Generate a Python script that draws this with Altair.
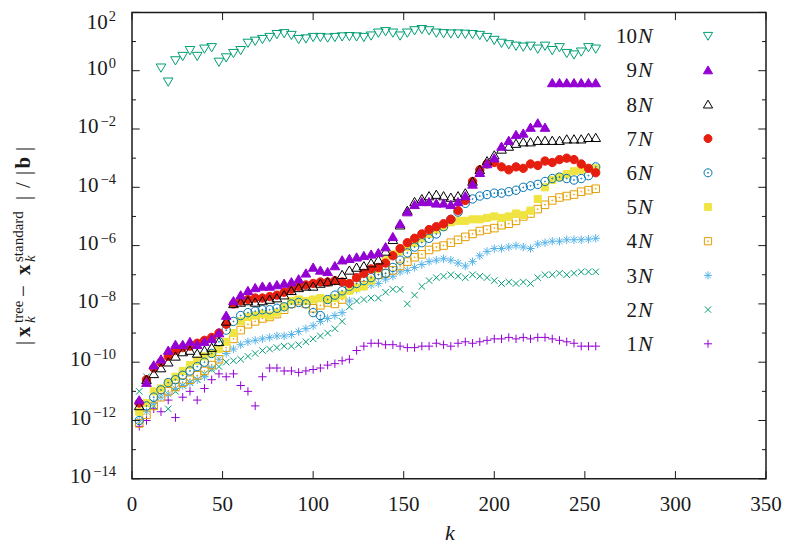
import altair as alt
import pandas as pd

# ---------------- data (log10 of the error) ----------------
K = list(range(4, 257, 4))          # iteration numbers k for series 1N..9N
K10 = list(range(16, 257, 4))       # 10N starts later

series_names = ["1N", "2N", "3N", "4N", "5N", "6N", "7N", "8N", "9N", "10N"]

log_1N = [-12.2, -12.0, -11.6, -11.7, -11.3, -11.9, -11.2, -11.0, -11.3, -10.9, -10.6, -10.4, -10.5, -10.4, -10.8,
          -11.0, -11.5, -10.5, -10.2, -10.2, -10.3, -10.3, -10.35, -10.3, -10.25, -10.2, -10.1, -10.05, -9.95, -9.9,
          -9.6, -9.45, -9.35, -9.35, -9.4, -9.4, -9.45, -9.5, -9.5, -9.45, -9.45, -9.35, -9.4, -9.45, -9.35,
          -9.3, -9.35, -9.3, -9.25, -9.2, -9.2, -9.15, -9.2, -9.15, -9.2, -9.15, -9.15, -9.2, -9.25, -9.3,
          -9.35, -9.45, -9.45, -9.45]
log_2N = [-11.0, -10.5, -11.5, -10.9, -11.6, -11.0, -10.8, -10.7, -10.6, -10.4, -10.25, -10.15, -10.0, -9.95, -9.9,
          -9.8, -9.7, -9.6, -9.55, -9.5, -9.45, -9.45, -9.4, -9.3, -9.2, -9.1, -9.0, -8.85, -8.6, -8.1,
          -7.9, -7.85, -7.8, -7.8, -7.6, -7.5, -7.5, -8.0, -7.7, -7.4, -7.2, -7.1, -7.05, -7.0, -7.05,
          -7.1, -7.0, -7.05, -7.1, -7.2, -7.3, -7.25, -7.3, -7.25, -7.3, -7.1, -7.0, -7.0, -6.95, -7.0,
          -6.95, -6.9, -6.9, -6.9]
log_3N = [-12.0, -11.7, -11.4, -11.2, -11.1, -10.9, -10.8, -10.7, -10.6, -10.5, -10.2, -9.9, -9.7, -9.55, -9.4,
          -9.3, -9.25, -9.2, -9.15, -9.1, -9.1, -9.05, -8.95, -8.85, -8.75, -8.6, -8.5, -8.4, -8.3, -7.9,
          -7.5, -7.4, -7.35, -7.3, -7.15, -7.05, -6.9, -6.85, -6.75, -6.65, -6.55, -6.5, -6.45, -6.5, -6.6,
          -6.7, -6.55, -6.35, -6.2, -6.1, -6.1, -6.05, -6.0, -6.05, -6.1, -5.95, -5.9, -5.85, -5.85, -5.8,
          -5.8, -5.8, -5.78, -5.75]
log_4N = [-12.1, -11.8, -11.5, -11.2, -11.0, -10.85, -10.7, -10.6, -10.45, -10.3, -10.1, -9.9, -9.5, -9.2, -8.9,
          -8.7, -8.6, -8.5, -8.45, -8.35, -8.2, -8.0, -7.9, -8.0, -8.15, -8.05, -7.95, -8.0, -7.85, -7.5,
          -7.2, -7.1, -7.05, -7.0, -6.95, -6.85, -6.7, -6.55, -6.4, -6.3, -6.15, -6.05, -6.0, -5.9, -5.8,
          -5.7, -5.6, -5.5, -5.45, -5.4, -5.3, -5.25, -5.15, -5.0, -4.9, -4.75, -4.6, -4.45, -4.35, -4.3,
          -4.25, -4.15, -4.1, -4.05]
log_5N = [-11.7, -11.4, -11.0, -10.9, -10.7, -10.5, -10.3, -10.1, -9.95, -9.8, -9.7, -9.55, -9.3, -9.0, -8.6,
          -8.45, -8.4, -8.35, -8.4, -8.3, -8.1, -7.9, -7.85, -7.9, -7.85, -7.8, -7.85, -7.8, -7.7, -7.55,
          -7.45, -7.4, -7.2, -6.8, -6.5, -6.3, -6.2, -6.05, -5.9, -5.75, -5.6, -5.45, -5.35, -5.2, -5.15,
          -5.15, -5.1, -5.1, -5.05, -5.0, -5.05, -5.0, -4.9, -4.95, -4.8, -4.4, -4.0, -3.75, -3.65, -3.55,
          -3.45, -3.4, -3.35, -3.35]
log_6N = [-12.0, -11.5, -11.2, -10.95, -10.7, -10.6, -10.45, -10.3, -10.15, -10.0, -9.7, -9.3, -8.9, -8.6, -8.4,
          -8.3, -8.25, -8.2, -8.2, -8.15, -8.1, -8.0, -7.95, -8.0, -8.3, -8.4, -7.85, -7.7, -7.55, -7.4,
          -7.3, -7.2, -7.1, -7.0, -6.95, -6.75, -6.5, -6.25, -6.05, -5.9, -5.75, -5.6, -5.35, -5.1, -4.85,
          -4.55, -4.4, -4.3, -4.25, -4.2, -4.2, -4.15, -4.1, -4.0, -3.95, -3.9, -3.8, -3.7, -3.65, -3.7,
          -3.75, -3.7, -3.6, -3.3]
log_7N = [-11.4, -10.6, -10.2, -10.0, -9.8, -9.6, -9.5, -9.45, -9.35, -9.25, -9.15, -9.0, -8.7, -8.0, -7.9,
          -7.85, -7.8, -7.8, -7.75, -7.7, -7.6, -7.5, -7.4, -7.35, -7.3, -7.25, -7.25, -7.2, -7.25, -7.3,
          -7.1, -6.95, -6.8, -6.75, -6.6, -6.35, -6.1, -5.9, -5.75, -5.6, -5.45, -5.35, -5.25, -5.1, -4.8,
          -4.45, -3.8, -3.4, -3.2, -3.15, -3.3, -3.4, -3.3, -3.35, -3.2, -3.25, -3.1, -3.15, -3.05, -3.0,
          -3.05, -3.2, -3.35, -3.5]
log_8N = [-11.5, -10.6, -10.4, -10.2, -10.0, -9.8, -9.65, -9.6, -9.7, -9.6, -9.5, -9.3, -8.6, -8.0, -7.95,
          -7.9, -7.95, -7.9, -7.85, -7.8, -7.7, -7.55, -7.45, -7.4, -7.4, -7.3, -7.25, -7.2, -7.0, -6.85,
          -6.75, -6.7, -6.6, -6.5, -6.2, -5.8, -5.3, -4.8, -4.5, -4.4, -4.3, -4.25, -4.3, -4.35, -4.3,
          -4.2, -3.8, -3.4, -3.1, -2.9, -2.7, -2.6, -2.5, -2.45, -2.45, -2.4, -2.4, -2.4, -2.4, -2.35,
          -2.35, -2.35, -2.3, -2.3]
log_9N = [-11.3, -10.7, -10.1, -9.9, -9.6, -9.4, -9.4, -9.3, -9.4, -9.3, -9.2, -9.0, -8.4, -7.9, -7.7,
          -7.55, -7.45, -7.4, -7.4, -7.35, -7.3, -7.25, -7.15, -6.95, -6.75, -6.85, -6.9, -6.7, -6.5, -6.45,
          -6.4, -6.35, -6.3, -6.25, -6.05, -5.7, -5.25, -4.85, -4.6, -4.5, -4.5, -4.55, -4.55, -4.6, -4.5,
          -4.3, -3.9, -3.5, -3.2, -3.0, -2.6, -2.4, -2.2, -2.15, -1.95, -1.8, -1.95, -0.42, -0.42, -0.42,
          -0.42, -0.42, -0.42, -0.42]
log_10N = [0.1, -0.38, 0.35, 0.5, 0.7, 0.5, 0.75, 0.8, 0.3, 0.45, 0.6, 0.7, 0.95, 1.02, 1.08,
           1.15, 1.25, 1.28, 1.22, 1.08, 1.1, 1.15, 1.15, 1.13, 1.15, 1.17, 1.18, 1.17, 1.15, 1.2,
           1.3, 1.35, 1.3, 1.2, 1.3, 1.38, 1.42, 1.38, 1.3, 1.28, 1.27, 1.27, 1.26, 1.25, 1.22,
           1.15, 1.05, 0.95, 0.9, 0.85, 0.82, 0.85, 0.75, 0.85, 0.7, 0.8, 0.6, 0.55, 0.65, 0.8,
           0.75]

x_ticks = [0, 50, 100, 150, 200, 250, 300, 350]
y_major_exp = [2, 0, -2, -4, -6, -8, -10, -12, -14]
y_minor_exp = [1, -1, -3, -5, -7, -9, -11, -13]

legend_order = ["10N", "9N", "8N", "7N", "6N", "5N", "4N", "3N", "2N", "1N"]
legend_num = ["10", "9", "8", "7", "6", "5", "4", "3", "2", "1"]

# ---------------- tables ----------------
rows = []
for name, ks, vals in [("1N", K, log_1N), ("2N", K, log_2N), ("3N", K, log_3N), ("4N", K, log_4N),
                       ("5N", K, log_5N), ("6N", K, log_6N), ("7N", K, log_7N), ("8N", K, log_8N),
                       ("9N", K, log_9N), ("10N", K10, log_10N)]:
    for k, e in zip(ks, vals):
        rows.append({"k": k, "err": 10.0 ** e, "s": name})
df = pd.DataFrame(rows)

xt = pd.DataFrame({"t": x_ticks})
ymaj = pd.DataFrame({"e": y_major_exp})
ymin = pd.DataFrame({"e": y_minor_exp})
leg = pd.DataFrame({"s": legend_order, "num": legend_num, "i": list(range(len(legend_order)))})
one = pd.DataFrame({"a": [0]})

# ---------------- styles ----------------
W, H = 634, 466.4
SERIF = "'Liberation Serif', 'Times New Roman', Times, 'DejaVu Serif', serif"
TXT = "#1a1a1a"
AX = "#1a1a1a"

colors = ["#9400d3", "#009e73", "#56b4e9", "#e69f00", "#f0e442",
          "#0072b2", "#e51e10", "#000000", "#9400d3", "#009e73"]
fills = ["transparent", "transparent", "transparent", "transparent", "#f0e442",
         "transparent", "#e51e10", "transparent", "#9400d3", "transparent"]
DOT = "M-0.1,0A0.1,0.1 0 1,1 0.1,0A0.1,0.1 0 1,1 -0.1,0Z"
shapes = [
    "M-0.8,0H0.8M0,-0.8V0.8",                                            # +
    "M-0.62,-0.62L0.62,0.62M-0.62,0.62L0.62,-0.62",                      # x
    "M-0.8,0H0.8M0,-0.8V0.8M-0.57,-0.57L0.57,0.57M-0.57,0.57L0.57,-0.57",  # *
    "M-0.72,-0.72H0.72V0.72H-0.72Z" + DOT,                               # open square + dot
    "M-0.68,-0.68H0.68V0.68H-0.68Z",                                     # filled square
    "M-0.8,0A0.8,0.8 0 1,1 0.8,0A0.8,0.8 0 1,1 -0.8,0Z" + DOT,           # open circle + dot
    "M-0.8,0A0.8,0.8 0 1,1 0.8,0A0.8,0.8 0 1,1 -0.8,0Z",                 # filled circle
    "M0,-0.85L0.92,0.72L-0.92,0.72Z",                                    # open triangle
    "M0,-0.85L0.92,0.72L-0.92,0.72Z",                                    # filled triangle
    "M0,0.85L0.92,-0.72L-0.92,-0.72Z",                                   # open down triangle
]

xs = alt.Scale(domain=[0, 350], nice=False, zero=False)
ys = alt.Scale(type="log", domain=[1e-14, 1e2], nice=False)
shape_enc = alt.Shape("s:N", scale=alt.Scale(domain=series_names, range=shapes), legend=None)
fill_enc = alt.Fill("s:N", scale=alt.Scale(domain=series_names, range=fills), legend=None)
stroke_enc = alt.Stroke("s:N", scale=alt.Scale(domain=series_names, range=colors), legend=None)

layers = []

# data points
layers.append(
    alt.Chart(df).mark_point(opacity=1, strokeWidth=1, size=110).encode(
        x=alt.X("k:Q", scale=xs, axis=None),
        y=alt.Y("err:Q", scale=ys, axis=None),
        shape=shape_enc, fill=fill_enc, stroke=stroke_enc,
    )
)

# inward ticks (mirrored on all four sides)
rule = dict(color=AX, strokeWidth=1)
layers.append(alt.Chart(xt).mark_rule(**rule).encode(
    x=alt.X("t:Q", scale=xs, axis=None), y=alt.value(H), y2=alt.value(H - 7.7)))
layers.append(alt.Chart(xt).mark_rule(**rule).encode(
    x=alt.X("t:Q", scale=xs, axis=None), y=alt.value(0), y2=alt.value(7.7)))
for tab, ln in [(ymaj, 7.7), (ymin, 4)]:
    base = alt.Chart(tab).transform_calculate(v="pow(10, datum.e)")
    layers.append(base.mark_rule(**rule).encode(
        y=alt.Y("v:Q", scale=ys, axis=None), x=alt.value(0), x2=alt.value(ln)))
    layers.append(base.mark_rule(**rule).encode(
        y=alt.Y("v:Q", scale=ys, axis=None), x=alt.value(W - ln), x2=alt.value(W)))

# y tick labels 10^e  (the top one is nudged down so it stays inside the page)
ylab = alt.Chart(ymaj).transform_calculate(
    v="pow(10, datum.e)",
    es="(datum.e < 0 ? '\u2212' : '') + abs(datum.e)",
).transform_calculate(
    bx="-16 - (7.3 * length(datum.es) + (datum.e < 0 ? 2 : 0)) - 1"
)
for cond, shift in [("datum.e < 2", 0), ("datum.e >= 2", 12)]:
    sub = ylab.transform_filter(cond)
    layers.append(sub.mark_text(align="right", baseline="alphabetic", dy=4.3 + shift, font=SERIF,
                                fontSize=21, color=TXT).encode(
        x=alt.X("bx:Q", scale=None, axis=None), y=alt.Y("v:Q", scale=ys, axis=None), text=alt.value("10")))
    layers.append(sub.mark_text(align="right", baseline="alphabetic", dy=-3 + shift, font=SERIF,
                                fontSize=14.5, color=TXT).encode(
        x=alt.value(-16), y=alt.Y("v:Q", scale=ys, axis=None), text="es:N"))

# x tick labels
layers.append(alt.Chart(xt).mark_text(align="center", baseline="alphabetic", font=SERIF,
                                      fontSize=21, color=TXT).encode(
    x=alt.X("t:Q", scale=xs, axis=None), y=alt.value(H + 32.2), text="t:Q"))

# x title
layers.append(alt.Chart(one).mark_text(text="k", fontStyle="italic", align="center", baseline="alphabetic",
                                       font=SERIF, fontSize=22, color=TXT).encode(
    x=alt.value(318), y=alt.value(528)))

# y title, built from pieces (rotated)
PX0, PY0 = 132, 12.4
pieces = [
    ("|", 29.5, 345, 21, "normal", "normal"),
    ("x", 29.5, 337, 21, "bold", "normal"),
    ("k", 35, 323, 15, "normal", "italic"),
    ("tree", 22.5, 323, 15, "normal", "normal"),
    ("\u2212", 29.5, 297, 21, "normal", "normal"),
    ("x", 29.5, 275, 21, "bold", "normal"),
    ("k", 35, 262, 15, "normal", "italic"),
    ("standard", 22.5, 262, 15, "normal", "normal"),
    ("|", 29.5, 200, 21, "normal", "normal"),
    ("/", 29.5, 188, 21, "normal", "normal"),
    ("|", 29.5, 175, 21, "normal", "normal"),
    ("b", 29.5, 168.5, 21, "bold", "normal"),
    ("|", 29.5, 151, 21, "normal", "normal"),
]
for txt, px, py, fs, fw, fst in pieces:
    layers.append(alt.Chart(one).mark_text(text=txt, angle=270, align="left", baseline="alphabetic",
                                           font=SERIF, fontSize=fs, fontWeight=fw, fontStyle=fst,
                                           color=TXT).encode(
        x=alt.value(px - PX0), y=alt.value(py - PY0)))

# key (labels left of symbols, as in the reference)
legb = alt.Chart(leg).transform_calculate(py="23.6 + 34.2 * datum.i", pyb="23.6 + 34.2 * datum.i + 7.3")
layers.append(legb.mark_point(opacity=1, strokeWidth=1, size=100).encode(
    x=alt.value(576), y=alt.Y("py:Q", scale=None, axis=None),
    shape=shape_enc, fill=fill_enc, stroke=stroke_enc))
layers.append(legb.mark_text(align="right", baseline="alphabetic", font=SERIF, fontSize=21,
                             color=TXT).encode(
    x=alt.value(505), y=alt.Y("pyb:Q", scale=None, axis=None), text="num:N"))
layers.append(legb.mark_text(align="left", baseline="alphabetic", font=SERIF, fontSize=22,
                             fontStyle="italic", color=TXT).encode(
    x=alt.value(506), y=alt.Y("pyb:Q", scale=None, axis=None), text=alt.value("N")))

chart = alt.layer(*layers).properties(
    width=W, height=H,
    autosize=alt.AutoSizeParams(type="none"),
    padding={"left": 124, "top": 4.4, "right": 16, "bottom": 72},
).configure_view(stroke=AX, strokeWidth=1.5)

chart.save("out.html", embed_options={"renderer": "svg", "actions": False})
